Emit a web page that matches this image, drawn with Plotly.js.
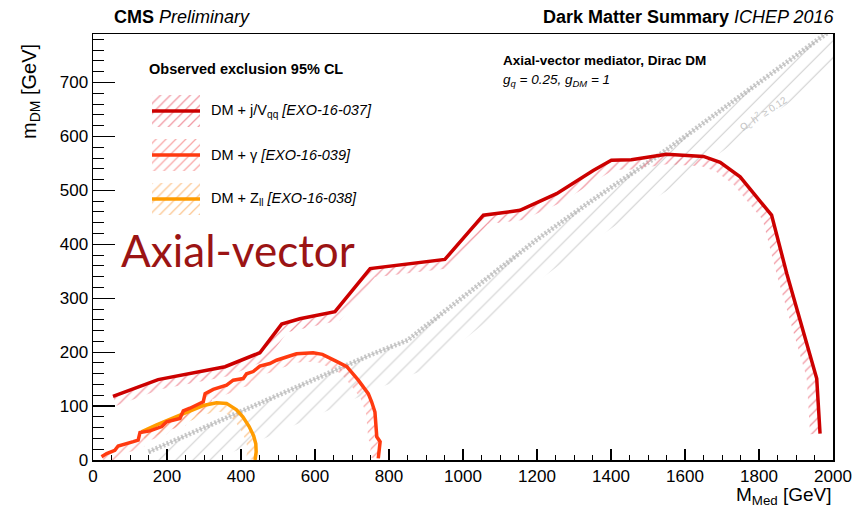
<!DOCTYPE html>
<html>
<head>
<meta charset="utf-8">
<script src="https://cdn.plot.ly/plotly-3.0.1.min.js"></script>
<style>html,body{margin:0;padding:0;background:#fff;}#chart{width:852px;height:514px;}</style>
</head>
<body>
<div id="chart"></div>
<script>
// ---- data ----
const jv_M = [54, 176, 357, 451, 510, 559, 654, 749, 951, 1055, 1154, 1253, 1352, 1401, 1455, 1550, 1650, 1695, 1749, 1834, 1875, 1951, 1956, 1965];
const jv_m = [118, 149, 173, 199, 252, 262, 275, 355, 372, 454, 463, 494, 537, 556, 557, 567, 563, 552, 525, 454, 346, 167, 151, 49];

const gamma_M = [23, 37, 59, 68, 109, 122, 127, 154, 186, 199, 235, 244, 262, 298, 303, 325, 361, 379, 406, 415, 433, 451, 478, 496, 523, 550, 595, 620, 658, 686, 717, 744, 753, 762, 767, 776, 771];
const gamma_m = [6, 12, 18, 26, 34, 37, 51, 54, 62, 71, 77, 91, 96, 108, 123, 131, 139, 148, 151, 160, 164, 174, 179, 185, 191, 197, 199, 196, 183, 173, 148, 123, 108, 89, 43, 34, 3];

const zll_M = [131, 172, 235, 298, 334, 361, 388, 405, 422, 434, 440, 441, 438];
const zll_m = [52, 65, 83, 101, 106, 105, 93, 80, 62, 45, 30, 15, 0];

const relic_M = [150, 300, 450, 600, 750, 850, 950, 1100, 1200, 1350, 1550, 1750, 2000];
const relic_m = [15, 60, 105, 150, 195, 222, 275, 357, 409, 482, 575, 675, 800];

const xTickVals = [0, 200, 400, 600, 800, 1000, 1200, 1400, 1600, 1800, 2000];
const yTickVals = [0, 100, 200, 300, 400, 500, 600, 700];

const legendLabels = [
  'DM + j/V<sub>qq</sub> <i>[EXO-16-037]</i>',
  'DM + γ <i>[EXO-16-039]</i>',
  'DM + Z<sub>ll</sub> <i>[EXO-16-038]</i>'
];

// ---- layout geometry ----
const W = 852, H = 514;
const M = {l: 93, r: 19, t: 34, b: 54};
const PW = W - M.l - M.r, PH = H - M.t - M.b;
const xRange = [0, 2000], yRange = [0, 790];
const sx = PW / (xRange[1] - xRange[0]);
const sy = PH / (yRange[1] - yRange[0]);
const FONT = 'Liberation Sans, Arial, Helvetica, sans-serif';

// hatched band on the right-hand side of a curve (pixel width w)
function band(xs, ys, w) {
  const n = xs.length;
  const px = xs.map(v => v * sx), py = ys.map(v => v * sy);
  const ox = [], oy = [];
  for (let i = 0; i < n; i++) {
    let nx = 0, ny = 0;
    const segs = [];
    if (i > 0) segs.push([i - 1, i]);
    if (i < n - 1) segs.push([i, i + 1]);
    segs.forEach(([a, b]) => {
      const dx = px[b] - px[a], dy = py[b] - py[a];
      const L = Math.hypot(dx, dy) || 1;
      nx += dy / L; ny += -dx / L;
    });
    const L2 = Math.hypot(nx, ny) || 1;
    ox.push((px[i] + nx / L2 * w) / sx);
    oy.push((py[i] + ny / L2 * w) / sy);
  }
  return {x: xs.concat(ox.slice().reverse(), [xs[0]]), y: ys.concat(oy.slice().reverse(), [ys[0]])};
}

function hatchTrace(xs, ys, w, color, size, sol) {
  const b = band(xs, ys, w);
  return {x: b.x, y: b.y, type: 'scatter', mode: 'lines', fill: 'toself',
    fillcolor: 'rgba(0,0,0,0)', line: {width: 0, color: 'rgba(0,0,0,0)'},
    fillpattern: {shape: '/', fgcolor: color, bgcolor: 'rgba(0,0,0,0)', size: size || 7, solidity: sol || 0.18},
    hoverinfo: 'skip', showlegend: false};
}

const cJV = '#cc0000', cG = '#ff3a10', cZ = '#ff9c00';
const hJV = 'rgba(235,110,125,0.7)', hG = 'rgba(245,120,120,0.65)', hZ = 'rgba(250,175,100,0.7)';

const traces = [];
// relic density band
traces.push(hatchTrace(relic_M, relic_m, 34, 'rgba(190,190,190,0.75)', 12, 0.09));
traces.push({x: relic_M, y: relic_m, type: 'scatter', mode: 'lines', line: {color: 'rgba(165,165,165,0.6)', width: 5, dash: '2px,2px'}, hoverinfo: 'skip', showlegend: false});
traces.push({x: relic_M, y: relic_m, type: 'scatter', mode: 'lines', line: {color: 'rgba(185,185,185,0.7)', width: 1}, hoverinfo: 'skip', showlegend: false});
// exclusion hatches
traces.push(hatchTrace(zll_M, zll_m, 9, hZ));
traces.push(hatchTrace(gamma_M, gamma_m, 9, hG));
traces.push(hatchTrace(jv_M, jv_m, 10, hJV));
// curves
traces.push({x: zll_M, y: zll_m, type: 'scatter', mode: 'lines', line: {color: cZ, width: 3.5}, showlegend: false});
traces.push({x: gamma_M, y: gamma_m, type: 'scatter', mode: 'lines', line: {color: cG, width: 3.5}, showlegend: false});
traces.push({x: jv_M, y: jv_m, type: 'scatter', mode: 'lines', line: {color: cJV, width: 3.5}, showlegend: false});

// legend samples (pixel overlay axes x2/y2)
const legY = [111, 155, 199];
const legCol = [cJV, cG, cZ];
const legHatch = [hJV, hG, hZ];
legY.forEach((yc, i) => {
  traces.push({x: [152, 200, 200, 152, 152], y: [yc - 16, yc - 16, yc + 16, yc + 16, yc - 16],
    xaxis: 'x2', yaxis: 'y2', type: 'scatter', mode: 'lines', fill: 'toself', fillcolor: 'rgba(0,0,0,0)',
    line: {width: 0, color: 'rgba(0,0,0,0)'},
    fillpattern: {shape: '/', fgcolor: legHatch[i], bgcolor: 'rgba(0,0,0,0)', size: 7, solidity: 0.18},
    hoverinfo: 'skip', showlegend: false});
  traces.push({x: [152, 200], y: [yc, yc], xaxis: 'x2', yaxis: 'y2', type: 'scatter', mode: 'lines',
    line: {color: legCol[i], width: 3.5}, hoverinfo: 'skip', showlegend: false});
});

// annotations placed by pixel position, converted to paper coordinates
const ann = [];
function A(text, x, y, opts) {
  ann.push(Object.assign({text: text, x: (x - M.l) / PW, y: (H - M.b - y) / PH, xref: 'paper', yref: 'paper', showarrow: false,
    xanchor: 'left', yanchor: 'middle', font: {family: FONT, size: 15, color: '#000'}}, opts || {}));
}
A('<b>CMS</b> <i>Preliminary</i>', 112, 17, {font: {family: FONT, size: 18, color: '#000'}});
A('<b>Dark Matter Summary</b> <i>ICHEP 2016</i>', 836, 17, {xanchor: 'right', font: {family: FONT, size: 18, color: '#000'}});
A('<b>Observed exclusion 95% CL</b>', 147, 69, {font: {family: FONT, size: 14.5, color: '#000'}});
legendLabels.forEach((t, i) => A(t, 209, legY[i], {font: {family: FONT, size: 14.5, color: '#000'}}));
A('<b>Axial-vector mediator, Dirac DM</b>', 501, 60, {font: {family: FONT, size: 13.5, color: '#000'}});
A('<i>g<sub>q</sub> = 0.25, g<sub>DM</sub> = 1</i>', 501, 80, {font: {family: FONT, size: 13.5, color: '#000'}});
A('Ω<sub>c</sub> h<sup>2</sup> ≥ 0.12', 763, 113, {xanchor: 'center', textangle: -33, font: {family: FONT, size: 10, color: '#c4c4c4'}});
A('Axial-vector', 119, 250, {font: {family: 'Lato, Carlito, sans-serif', size: 44, color: '#9b1414'}});
A('m<sub>DM</sub> [GeV]', 31, 92, {xanchor: 'center', textangle: -90, font: {family: FONT, size: 20, color: '#000'}});
A('M<sub>Med</sub> [GeV]', 834, 496, {xanchor: 'right', font: {family: FONT, size: 19, color: '#000'}});

const layout = {
  width: W, height: H, margin: M, paper_bgcolor: '#fff', plot_bgcolor: '#fff', showlegend: false,
  font: {family: FONT, size: 17, color: '#000'},
  xaxis: {range: xRange, tickvals: xTickVals, ticktext: xTickVals.map(String), ticks: 'inside', ticklen: 11, tickwidth: 1.2,
    tickcolor: '#000', showline: true, linecolor: '#000', linewidth: 1.5, mirror: true, showgrid: false, zeroline: false,
    tickfont: {family: FONT, size: 17}, minor: {ticks: 'inside', dtick: 50, ticklen: 5, tickwidth: 1, tickcolor: '#000', showgrid: false}},
  yaxis: {range: yRange, tickvals: yTickVals, ticktext: yTickVals.map(String), ticks: 'inside', ticklen: 22, tickwidth: 1.2,
    tickcolor: '#000', showline: true, linecolor: '#000', linewidth: 1.5, mirror: true, showgrid: false, zeroline: false,
    tickfont: {family: FONT, size: 17}, minor: {ticks: 'inside', dtick: 20, ticklen: 11, tickwidth: 1, tickcolor: '#000', showgrid: false}},
  xaxis2: {overlaying: 'x', range: [M.l, W - M.r], visible: false, fixedrange: true},
  yaxis2: {overlaying: 'y', range: [H - M.b, M.t], visible: false, fixedrange: true},
  annotations: ann
};

Plotly.newPlot('chart', traces, layout, {staticPlot: true});
</script>
</body>
</html>
